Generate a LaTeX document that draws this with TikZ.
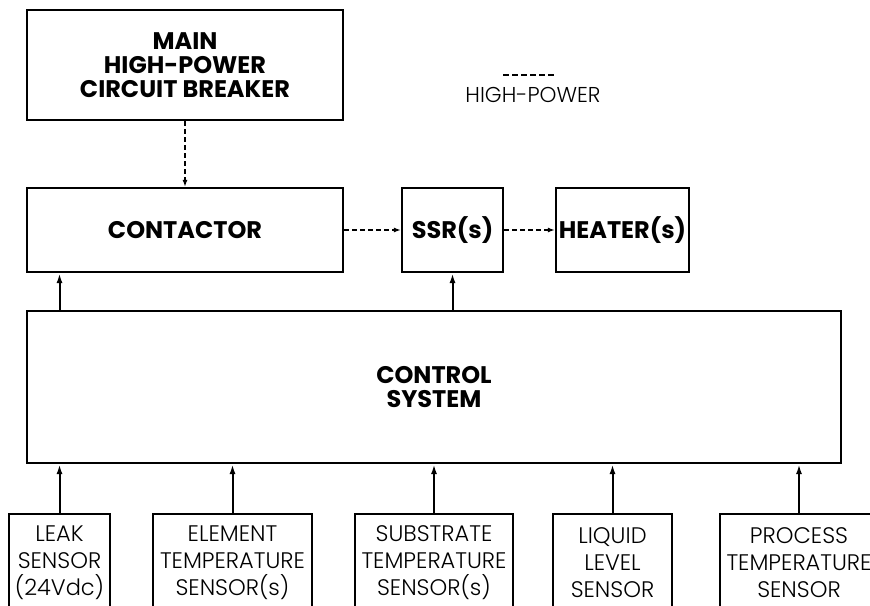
\documentclass[tikz,border=0pt]{standalone}
\usepackage{fontspec}
\setmainfont{Poppins}
\IfFontExistsTF{Poppins Light}{\newfontfamily\thinfont{Poppins Light}}{\newfontfamily\thinfont{Poppins}}
\usetikzlibrary{arrows.meta}

\begin{document}
\begin{tikzpicture}[x=1pt,y=-1pt,
    box/.style={draw,line width=2.2pt,inner sep=0pt,align=center,
      font=\fontsize{24}{24}\selectfont\bfseries},
    sensorbox/.style={draw,line width=2.2pt,inner sep=0pt,align=center,
      minimum height=98pt,font=\thinfont\fontsize{22.5}{27}\selectfont},
    sig/.style={line width=2pt,-{Latex[length=10pt,width=6pt]}},
    hp/.style={line width=2pt,dash pattern=on 5pt off 3pt,-{Latex[open,length=7pt,width=5pt]}}]
                \clip (0,0) rectangle (870,605);
                % high-power path
                \node[box,minimum width=316pt,minimum height=110pt] (breaker) at (185,65) {MAIN\\HIGH-POWER\\CIRCUIT BREAKER};
                \node[box,minimum width=316pt,minimum height=84pt] (contactor) at (185,230) {CONTACTOR};
                \node[box,minimum width=101pt,minimum height=84pt] (ssr) at (452.5,230) {SSR(s)};
                \node[box,minimum width=133pt,minimum height=84pt] (heater) at (622.5,230) {HEATER(s)};
                \draw[hp] (breaker.south) -- (contactor.north);
                \draw[hp] (contactor.east) -- (ssr.west);
                \draw[hp] (ssr.east) -- (heater.west);
                % legend
                \coordinate (hpa) at (503,75);
                \coordinate (hpb) at (555,75);
                \draw[line width=1.8pt,dash pattern=on 6pt off 3pt] (hpa) -- (hpb);
                \node[font=\thinfont\fontsize{21.5}{22}\selectfont] (hplabel) at (533,95) {HIGH-POWER};
                % control
                \node[box,minimum width=814pt,minimum height=152pt] (control) at (434,387) {CONTROL\\SYSTEM};
                % sensors
                \node[sensorbox,minimum width=101pt] (leak) at (59.5,563) {LEAK\\SENSOR\\(24Vdc)};
                \node[sensorbox,minimum width=159pt] (element) at (232.5,563) {ELEMENT\\TEMPERATURE\\SENSOR(s)};
                \node[sensorbox,minimum width=158pt] (substrate) at (434,563) {SUBSTRATE\\TEMPERATURE\\SENSOR(s)};
                \node[sensorbox,minimum width=119pt] (liquid) at (612.5,563) {LIQUID\\LEVEL\\SENSOR};
                \node[sensorbox,minimum width=158pt] (process) at (799,563) {PROCESS\\TEMPERATURE\\SENSOR};
                \foreach \s in {leak,element,substrate,liquid,process}
                    \draw[sig] (\s.north) -- (\s.north |- control.south);
                \draw[sig] (leak.north |- control.north) -- (leak.north |- contactor.south);
                \draw[sig] (ssr.south |- control.north) -- (ssr.south);
\end{tikzpicture}
\end{document}
